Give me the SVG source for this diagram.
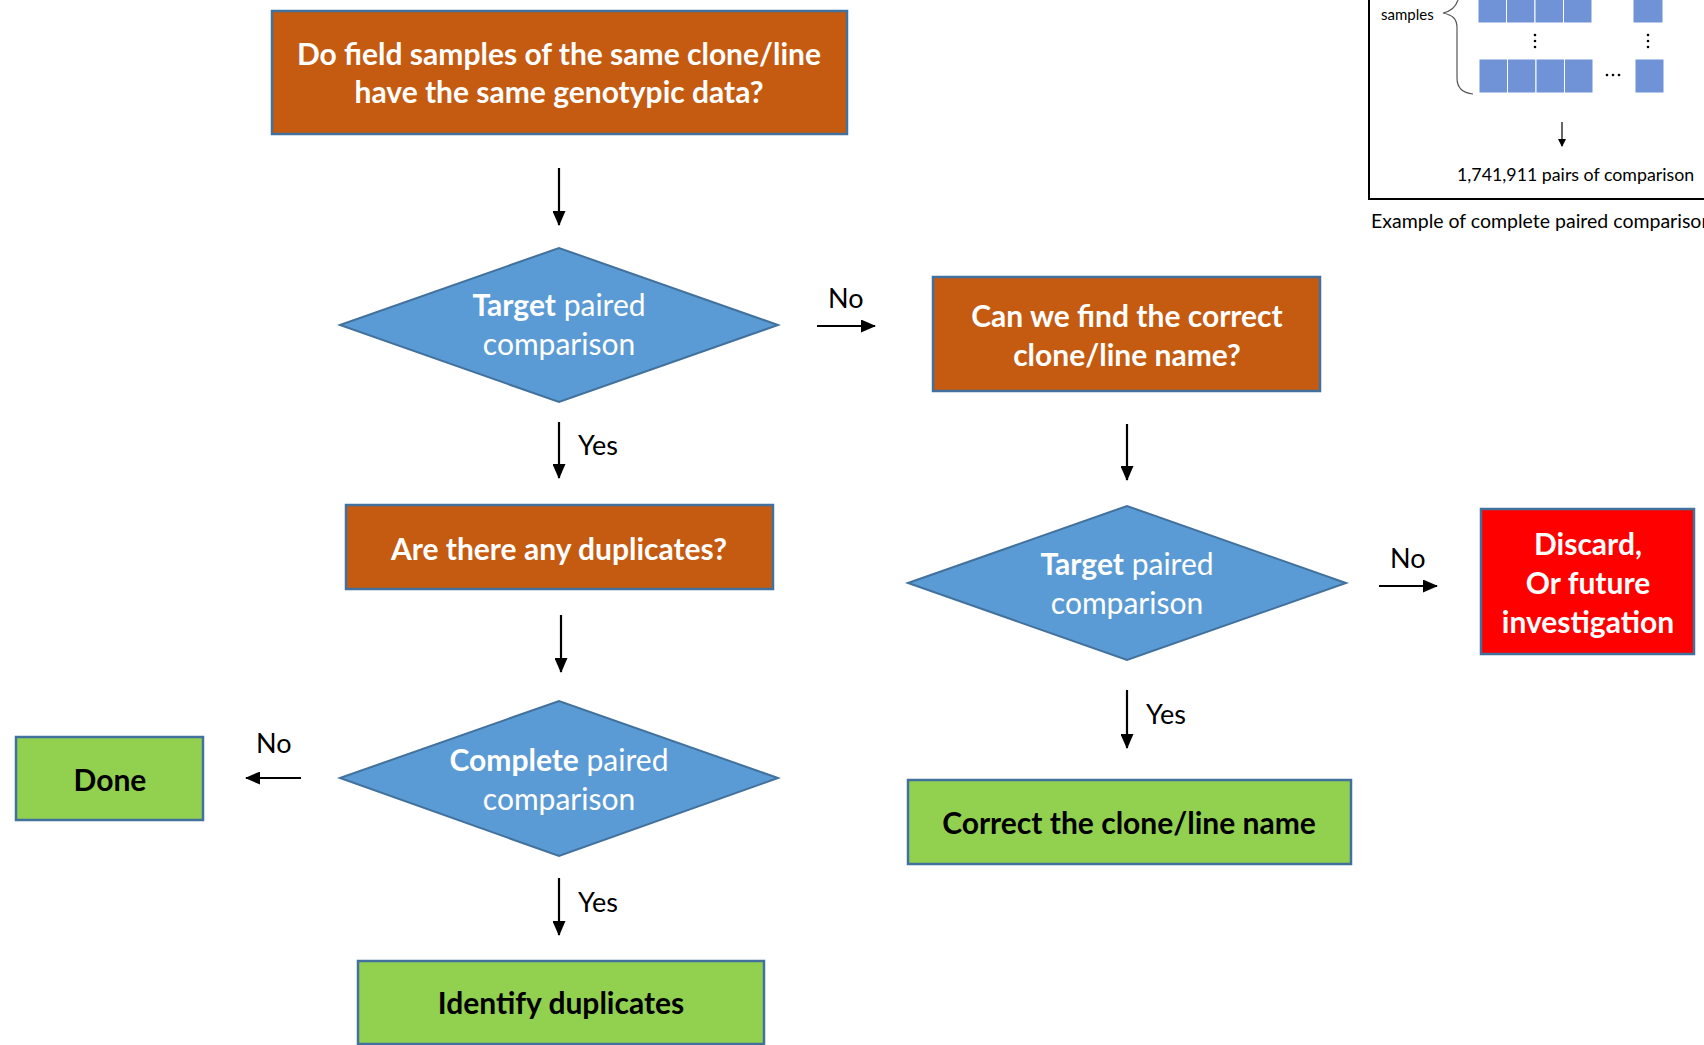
<svg xmlns="http://www.w3.org/2000/svg" width="1704" height="1045" viewBox="0 0 1704 1045">
<defs>
<marker id="ah" markerWidth="15" markerHeight="13" refX="14" refY="6.5" orient="auto" markerUnits="userSpaceOnUse" viewBox="0 0 15 13">
<path d="M0,0 L15,6.5 L0,13 z" fill="#000"/>
</marker>
<marker id="ahs" markerWidth="8" markerHeight="8" refX="7" refY="4" orient="auto" markerUnits="userSpaceOnUse" viewBox="0 0 8 8">
<path d="M0,0 L8,4 L0,8 z" fill="#000"/>
</marker>
<style>
.orange{fill:#C55A11;stroke:#41719C;stroke-width:2.5}
.green{fill:#92D050;stroke:#41719C;stroke-width:2.5}
.red{fill:#FF0000;stroke:#41719C;stroke-width:2.5}
.dia{fill:#5B9BD5;stroke:#41719C;stroke-width:2}
.t{font-family:Lato,"Open Sans","Liberation Sans",sans-serif;text-anchor:middle}
.wb{fill:#fff;font-weight:bold;font-size:30px}
.bb{fill:#000;font-weight:bold;font-size:30px}
.wr{fill:#fff;font-size:30px}
.lbl{font-family:Lato,"Open Sans","Liberation Sans",sans-serif;font-size:27px;fill:#000}
.conn line{stroke:#000;stroke-width:2.2;marker-end:url(#ah)}
.cell{fill:#6F93D6;stroke:#fff;stroke-width:1}
.small{font-family:Lato,"Open Sans","Liberation Sans",sans-serif;fill:#000}
</style>
</defs>
<rect width="1704" height="1045" fill="#fff"/>

<g id="q1">
<rect class="orange" x="272" y="11" width="575" height="123"/>
<text class="t wb" x="559" y="65">Do field samples of the same clone/line</text>
<text class="t wb" x="559" y="103">have the same genotypic data?</text>
</g>

<g id="d1">
<polygon class="dia" points="340,325 559,248 778,325 559,402"/>
<text class="t wr" x="559" y="316"><tspan font-weight="bold">Target</tspan> paired</text>
<text class="t wr" x="559" y="355">comparison</text>
</g>

<g id="q2">
<rect class="orange" x="933" y="277" width="387" height="114"/>
<text class="t wb" x="1127" y="327">Can we find the correct</text>
<text class="t wb" x="1127" y="366">clone/line name?</text>
</g>

<g id="q3">
<rect class="orange" x="346" y="505" width="427" height="84"/>
<text class="t wb" x="559" y="560">Are there any duplicates?</text>
</g>

<g id="d2">
<polygon class="dia" points="908,583 1127,506 1346,583 1127,660"/>
<text class="t wr" x="1127" y="575"><tspan font-weight="bold">Target</tspan> paired</text>
<text class="t wr" x="1127" y="614">comparison</text>
</g>

<g id="discard">
<rect class="red" x="1481" y="509" width="213" height="145"/>
<text class="t wb" x="1588" y="555">Discard,</text>
<text class="t wb" x="1588" y="594">Or future</text>
<text class="t wb" x="1588" y="633">investigation</text>
</g>

<g id="d3">
<polygon class="dia" points="340,778 559,701 778,778 559,856"/>
<text class="t wr" x="559" y="771"><tspan font-weight="bold">Complete</tspan> paired</text>
<text class="t wr" x="559" y="810">comparison</text>
</g>

<g id="done">
<rect class="green" x="16" y="737" width="187" height="83"/>
<text class="t bb" x="110" y="791">Done</text>
</g>

<g id="correct">
<rect class="green" x="908" y="780" width="443" height="84"/>
<text class="t bb" x="1129" y="834">Correct the clone/line name</text>
</g>

<g id="identify">
<rect class="green" x="358" y="961" width="406" height="83"/>
<text class="t bb" x="561" y="1014">Identify duplicates</text>
</g>

<g id="connectors" class="conn">
<line x1="559" y1="168" x2="559" y2="225"/>
<line x1="817" y1="326" x2="875" y2="326"/>
<line x1="559" y1="422" x2="559" y2="478"/>
<line x1="1127" y1="424" x2="1127" y2="480"/>
<line x1="561" y1="615" x2="561" y2="672"/>
<line x1="1379" y1="586" x2="1437" y2="586"/>
<line x1="301" y1="778" x2="246" y2="778"/>
<line x1="1127" y1="690" x2="1127" y2="748"/>
<line x1="559" y1="878" x2="559" y2="935"/>
</g>
<g id="labels">
<text class="lbl" x="828" y="308">No</text>
<text class="lbl" x="578" y="455">Yes</text>
<text class="lbl" x="1390" y="568">No</text>
<text class="lbl" x="256" y="753">No</text>
<text class="lbl" x="1146" y="724">Yes</text>
<text class="lbl" x="578" y="912">Yes</text>
</g>

<g id="inset">
<polyline points="1369,0 1369,199 1704,199" fill="none" stroke="#000" stroke-width="2"/>
<text class="small" x="1381" y="20" font-size="15">samples</text>
<path d="M1458,0 C1456,6 1452,11 1443,13 C1452,15 1457,18 1457,28 L1457,78 C1457,88 1463,93 1473,94" fill="none" stroke="#555" stroke-width="1.2"/>
<rect class="cell" x="1478" y="-10" width="28.5" height="33"/>
<rect class="cell" x="1506.5" y="-10" width="28.5" height="33"/>
<rect class="cell" x="1535" y="-10" width="28.5" height="33"/>
<rect class="cell" x="1563.5" y="-10" width="28.5" height="33"/>
<rect class="cell" x="1633" y="-10" width="30" height="33"/>
<rect class="cell" x="1479" y="59" width="28.5" height="34"/>
<rect class="cell" x="1507.5" y="59" width="28.5" height="34"/>
<rect class="cell" x="1536" y="59" width="28.5" height="34"/>
<rect class="cell" x="1564.5" y="59" width="28.5" height="34"/>
<rect class="cell" x="1635" y="59" width="29" height="34"/>
<g fill="#000">
<circle cx="1535" cy="35" r="1.3"/><circle cx="1535" cy="41" r="1.3"/><circle cx="1535" cy="47" r="1.3"/>
<circle cx="1648" cy="35" r="1.3"/><circle cx="1648" cy="41" r="1.3"/><circle cx="1648" cy="47" r="1.3"/>
<circle cx="1607" cy="75" r="1.3"/><circle cx="1613" cy="75" r="1.3"/><circle cx="1619" cy="75" r="1.3"/>
</g>
<line x1="1562" y1="122" x2="1562" y2="146" stroke="#000" stroke-width="1.2" marker-end="url(#ahs)"/>
<text class="small" x="1457" y="181" font-size="17.8">1,741,911 pairs of comparison</text>
<text class="small" x="1371" y="228" font-size="19.5">Example of complete paired comparison</text>
</g>
</svg>
